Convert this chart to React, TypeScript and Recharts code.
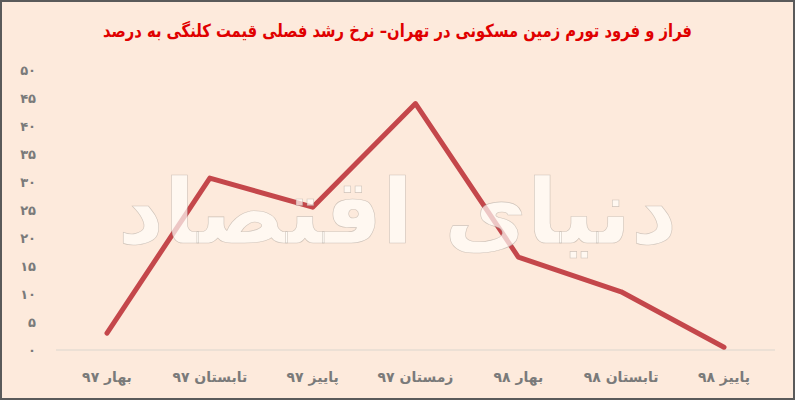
import { LineChart, Line, XAxis, YAxis, ReferenceLine } from 'recharts';

const quarters = ['بهار ۹۷', 'تابستان ۹۷', 'پاییز ۹۷', 'زمستان ۹۷', 'بهار ۹۸', 'تابستان ۹۸', 'پاییز ۹۸'];
const growth = [3, 30.7, 25.5, 44, 16.6, 10.4, 0.5];
const yTicks = [0, 5, 10, 15, 20, 25, 30, 35, 40, 45, 50];

const title = 'فراز و فرود تورم زمین مسکونی در تهران– نرخ رشد فصلی قیمت کلنگی به درصد';
const watermark = 'دنیای اقتصاد';

const FONT = '"DejaVu Sans", sans-serif';

// ارقام فارسی
const toFa = (n: number) => String(n).replace(/\d/g, d => '۰۱۲۳۴۵۶۷۸۹'[Number(d)]);

const data = quarters.map((q, i) => ({ q, v: growth[i] }));

export default function App() {
  return (
    <div
      style={{
        position: 'absolute',
        left: 0,
        top: 0,
        width: 795,
        height: 400,
        boxSizing: 'border-box',
        background: '#fdeadc',
        border: '2px solid #5a5a5a',
        overflow: 'hidden',
      }}
    >
      <div
        style={{
          position: 'absolute',
          left: 0,
          right: 0,
          top: 18,
          textAlign: 'center',
          direction: 'rtl',
          color: '#e00000',
          fontFamily: FONT,
          fontWeight: 'bold',
          fontSize: 18,
          transform: 'scaleX(0.82)',
          whiteSpace: 'nowrap',
        }}
      >
        {title}
      </div>
      <div style={{ position: 'absolute', left: -2, top: -2 }}>
        <LineChart width={795} height={400} data={data} margin={{ top: 70, right: 20, left: 0, bottom: 20 }}>
          <XAxis
            dataKey="q"
            axisLine={false}
            tickLine={false}
            tickSize={0}
            tickMargin={22}
            height={30}
            interval={0}
            padding={{ left: 51, right: 51 }}
            tick={{ fontSize: 14, fill: '#7a7a7a', fontWeight: 'bold', fontFamily: FONT }}
          />
          <YAxis
            domain={[0, 50]}
            ticks={yTicks}
            axisLine={false}
            tickLine={false}
            tickSize={0}
            tickMargin={20}
            width={56}
            tickFormatter={(v: number) => toFa(v)}
            tick={{ fontSize: 13, fill: '#7a7a7a', fontWeight: 'bold', fontFamily: FONT }}
          />
          <ReferenceLine y={0} stroke="#e6dcd3" strokeWidth={1.5} />
          <Line
            dataKey="v"
            stroke="#c4474b"
            strokeWidth={5}
            strokeLinecap="round"
            strokeLinejoin="round"
            dot={false}
            isAnimationActive={false}
          />
        </LineChart>
      </div>
      {/* واترمارک */}
      <div
        style={{
          position: 'absolute',
          left: 0,
          right: 0,
          top: 145,
          textAlign: 'center',
          direction: 'rtl',
          fontFamily: FONT,
          fontWeight: 'bold',
          fontSize: 90,
          lineHeight: '130px',
          color: 'rgba(255, 253, 250, 0.7)',
          WebkitTextStroke: '0.6px rgba(150, 140, 130, 0.45)',
          whiteSpace: 'nowrap',
          pointerEvents: 'none',
        }}
      >
        {watermark}
      </div>
    </div>
  );
}
